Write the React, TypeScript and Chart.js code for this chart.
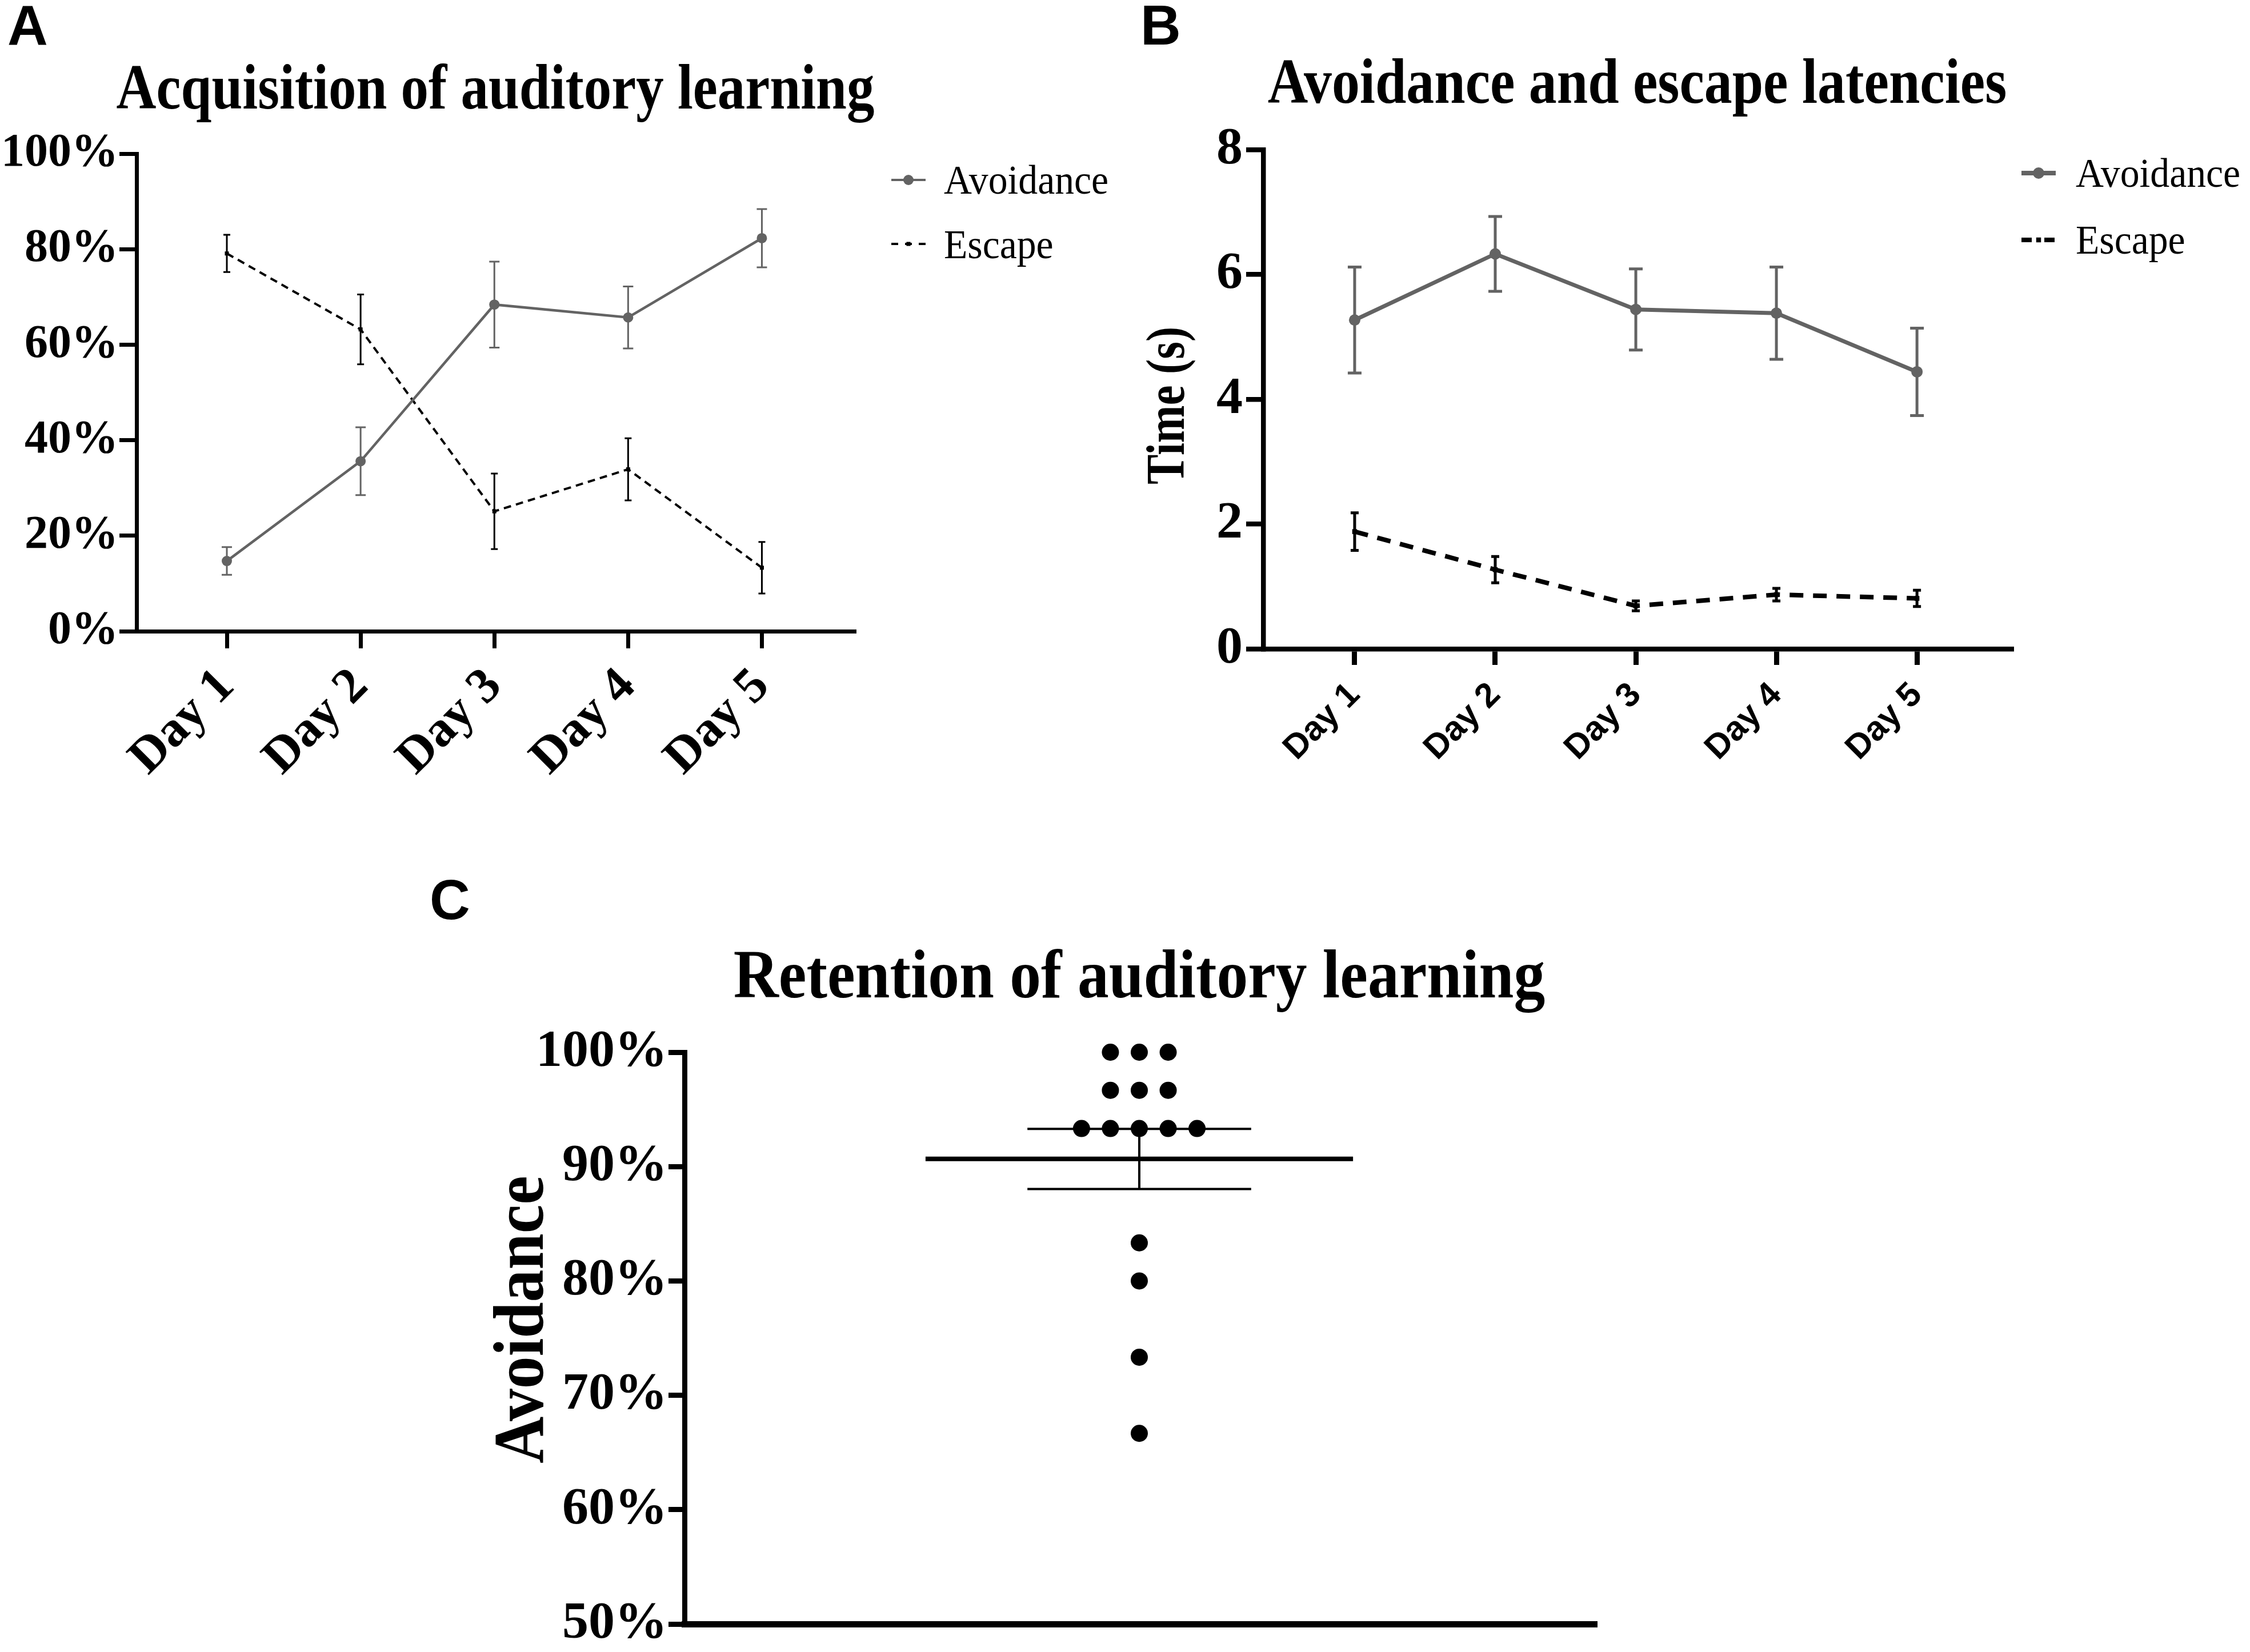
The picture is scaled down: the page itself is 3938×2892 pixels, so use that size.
import React, { useEffect, useRef } from 'react';
import { Chart, registerables } from 'chart.js';

Chart.register(...registerables);

const SERIF = "'Liberation Serif', 'Times New Roman', serif";
const SANS = "'Liberation Sans', Arial, sans-serif";
const GRAY = '#636363';
const BLACK = '#000000';

// ---------- data ----------
const days = ['Day 1', 'Day 2', 'Day 3', 'Day 4', 'Day 5'];

// Panel A: acquisition (% of trials)
const acqAvoidance = [14.7, 35.6, 68.4, 65.7, 82.3];
const acqAvoidanceSem = [2.9, 7.1, 9.0, 6.5, 6.1];
const acqEscape = [79.1, 63.2, 25.1, 33.9, 13.3];
const acqEscapeSem = [3.9, 7.3, 7.9, 6.5, 5.4];

// Panel B: latencies (s)
const latAvoidance = [5.27, 6.33, 5.44, 5.38, 4.44];
const latAvoidanceSem = [0.85, 0.6, 0.65, 0.74, 0.7];
const latEscape = [1.88, 1.27, 0.69, 0.87, 0.81];
const latEscapeSem = [0.3, 0.21, 0.08, 0.1, 0.13];

// Panel C: retention (% avoidance per animal)
const retention = [100, 100, 100, 96.67, 96.67, 96.67, 93.33, 93.33, 93.33, 93.33, 93.33, 83.33, 80, 73.33, 66.67];

const seriesLabels = ['Avoidance', 'Escape'];

// ---------- helpers ----------
const toXY = (vals: number[]) => vals.map((y, i) => ({ x: i + 1, y }));

const retentionMean = retention.reduce((a, b) => a + b, 0) / retention.length;
const retentionSem = Math.sqrt(
  retention.reduce((a, b) => a + (b - retentionMean) ** 2, 0) / (retention.length - 1)
) / Math.sqrt(retention.length);

// beeswarm-like symmetric spread of identical values around x = 1
const retentionPoints = (() => {
  const step = 0.0635;
  const groups: Record<string, number> = {};
  retention.forEach((v) => { groups[v.toFixed(2)] = (groups[v.toFixed(2)] || 0) + 1; });
  const seen: Record<string, number> = {};
  return retention.map((v) => {
    const k = v.toFixed(2);
    const n = groups[k];
    const idx = seen[k] || 0;
    seen[k] = idx + 1;
    return { x: 1 + (idx - (n - 1) / 2) * step, y: v };
  });
})();

const errorBarPlugin = {
  id: 'errorBars',
  beforeDatasetsDraw(chart: any) {
    const ctx = chart.ctx;
    const yScale = chart.scales.y;
    chart.data.datasets.forEach((ds: any, i: number) => {
      if (!ds.sem) return;
      const meta = chart.getDatasetMeta(i);
      ctx.save();
      ctx.strokeStyle = ds.borderColor;
      ctx.lineWidth = ds.errWidth;
      ctx.setLineDash([]);
      meta.data.forEach((el: any, j: number) => {
        const v = ds.data[j].y;
        const e = ds.sem[j];
        const yt = yScale.getPixelForValue(v + e);
        const yb = yScale.getPixelForValue(v - e);
        const x = el.x;
        const c = ds.capHalf;
        ctx.beginPath();
        ctx.moveTo(x, yt);
        ctx.lineTo(x, yb);
        ctx.moveTo(x - c, yt);
        ctx.lineTo(x + c, yt);
        ctx.moveTo(x - c, yb);
        ctx.lineTo(x + c, yb);
        ctx.stroke();
      });
      ctx.restore();
    });
  },
};

type DecorCfg = {
  title: string;
  titleSize: number;
  titleScale: number;
  titleBase: number;
  yTitle?: string;
  ySize?: number;
  yScale?: number;
  yBaseX?: number;
  yCenter?: number;
};

function decorPlugin(cfg: DecorCfg) {
  return {
    id: 'decor',
    afterDraw(chart: any) {
      const ctx = chart.ctx;
      const ca = chart.chartArea;
      ctx.save();
      ctx.fillStyle = BLACK;
      ctx.font = `bold ${cfg.titleSize}px ${SERIF}`;
      ctx.textAlign = 'center';
      ctx.textBaseline = 'alphabetic';
      ctx.translate((ca.left + ca.right) / 2, cfg.titleBase);
      ctx.scale(cfg.titleScale, 1);
      ctx.fillText(cfg.title, 0, 0);
      ctx.restore();
      if (cfg.yTitle) {
        ctx.save();
        ctx.fillStyle = BLACK;
        ctx.font = `bold ${cfg.ySize}px ${SERIF}`;
        ctx.textAlign = 'center';
        ctx.textBaseline = 'alphabetic';
        ctx.translate(cfg.yBaseX, cfg.yCenter);
        ctx.rotate(-Math.PI / 2);
        ctx.scale(cfg.yScale, 1);
        ctx.fillText(cfg.yTitle, 0, 0);
        ctx.restore();
      }
    },
  };
}

type LegendCfg = {
  x0: number;
  x1: number;
  textX: number;
  lineY: number[];
  baseY: number[];
  size: number;
  scaleX: number;
};

function legendPlugin(cfg: LegendCfg) {
  return {
    id: 'customLegend',
    afterDraw(chart: any) {
      const ctx = chart.ctx;
      chart.data.datasets.forEach((ds: any, i: number) => {
        if (cfg.lineY[i] === undefined) return;
        const y = cfg.lineY[i];
        ctx.save();
        ctx.strokeStyle = ds.borderColor;
        ctx.lineWidth = ds.legendWidth ?? ds.borderWidth;
        ctx.setLineDash(ds.legendDash ?? ds.borderDash ?? []);
        ctx.beginPath();
        ctx.moveTo(cfg.x0, y);
        ctx.lineTo(cfg.x1, y);
        ctx.stroke();
        ctx.setLineDash([]);
        const cx = (cfg.x0 + cfg.x1) / 2;
        const r = ds.pointRadius;
        ctx.fillStyle = ds.pointBackgroundColor;
        if (ds.pointStyle === 'rect') {
          const s = r * Math.SQRT1_2;
          ctx.fillRect(cx - s, y - s, 2 * s, 2 * s);
        } else {
          ctx.beginPath();
          ctx.arc(cx, y, r, 0, Math.PI * 2);
          ctx.fill();
        }
        ctx.fillStyle = BLACK;
        ctx.font = `${cfg.size}px ${SERIF}`;
        ctx.textAlign = 'left';
        ctx.textBaseline = 'alphabetic';
        ctx.translate(cfg.textX, cfg.baseY[i]);
        ctx.scale(cfg.scaleX, 1);
        ctx.fillText(ds.label, 0, 0);
        ctx.restore();
      });
    },
  };
}

const axisGrid = (w: number, len: number) => ({
  display: true,
  drawOnChartArea: false,
  drawTicks: true,
  tickLength: len,
  lineWidth: w,
  tickWidth: w,
  color: BLACK,
  tickColor: BLACK,
});

// ---------- configs ----------
function acqConfig(): any {
  return {
    type: 'line',
    data: {
      datasets: [
        {
          label: seriesLabels[0],
          data: toXY(acqAvoidance),
          sem: acqAvoidanceSem,
          borderColor: GRAY,
          backgroundColor: GRAY,
          borderWidth: 4.5,
          pointStyle: 'circle',
          pointRadius: 9,
          pointBackgroundColor: GRAY,
          pointBorderWidth: 0,
          errWidth: 3,
          capHalf: 9,
          legendWidth: 4,
        },
        {
          label: seriesLabels[1],
          data: toXY(acqEscape),
          sem: acqEscapeSem,
          borderColor: BLACK,
          backgroundColor: BLACK,
          borderWidth: 4,
          borderDash: [13, 9],
          pointStyle: 'rect',
          pointRadius: 5,
          pointBackgroundColor: BLACK,
          pointBorderWidth: 0,
          errWidth: 3,
          capHalf: 6,
          legendDash: [12, 12],
        },
      ],
    },
    options: {
      responsive: false,
      animation: false,
      events: [],
      layout: { padding: { top: 269, right: 495, bottom: 0, left: 0 } },
      plugins: { legend: { display: false }, title: { display: false }, tooltip: { enabled: false } },
      scales: {
        x: {
          type: 'linear',
          min: 0.325,
          max: 5.69,
          afterBuildTicks: (s: any) => { s.ticks = days.map((_, i) => ({ value: i + 1 })); },
          afterFit: (s: any) => { s.height = 295; },
          ticks: {
            autoSkip: false,
            minRotation: 45,
            maxRotation: 45,
            padding: 22,
            color: BLACK,
            font: { family: SERIF, weight: 'bold', size: 88, lineHeight: 1 },
            callback: (v: any) => days[Math.round(v) - 1] ?? '',
          },
          grid: axisGrid(7, 30),
          border: { display: true, color: BLACK, width: 7 },
        },
        y: {
          type: 'linear',
          min: 0,
          max: 100,
          afterFit: (s: any) => { s.width = 239; },
          ticks: {
            stepSize: 20,
            padding: 2,
            color: BLACK,
            font: { family: SERIF, weight: 'bold', size: 82, lineHeight: 1 },
            callback: (v: any) => `${v}%`,
          },
          grid: axisGrid(7, 30),
          border: { display: true, color: BLACK, width: 7 },
        },
      },
    },
    plugins: [
      errorBarPlugin,
      decorPlugin({ title: 'Acquisition of auditory learning', titleSize: 112, titleScale: 0.865, titleBase: 190 }),
      legendPlugin({ x0: 1560, x1: 1620, textX: 1652, lineY: [315, 427], baseY: [339, 452], size: 72, scaleX: 0.94 }),
    ],
  };
}

function latConfig(): any {
  return {
    type: 'line',
    data: {
      datasets: [
        {
          label: seriesLabels[0],
          data: toXY(latAvoidance),
          sem: latAvoidanceSem,
          borderColor: GRAY,
          backgroundColor: GRAY,
          borderWidth: 7,
          pointStyle: 'circle',
          pointRadius: 10,
          pointBackgroundColor: GRAY,
          pointBorderWidth: 0,
          errWidth: 5,
          capHalf: 12,
          legendWidth: 8,
        },
        {
          label: seriesLabels[1],
          data: toXY(latEscape),
          sem: latEscapeSem,
          borderColor: BLACK,
          backgroundColor: BLACK,
          borderWidth: 8,
          borderDash: [24, 17],
          pointStyle: 'rect',
          pointRadius: 6,
          pointBackgroundColor: BLACK,
          pointBorderWidth: 0,
          errWidth: 5,
          capHalf: 7,
          legendDash: [18, 22],
        },
      ],
    },
    options: {
      responsive: false,
      animation: false,
      events: [],
      layout: { padding: { top: 262, right: 418, bottom: 0, left: 0 } },
      plugins: { legend: { display: false }, title: { display: false }, tooltip: { enabled: false } },
      scales: {
        x: {
          type: 'linear',
          min: 0.35,
          max: 5.67,
          afterBuildTicks: (s: any) => { s.ticks = days.map((_, i) => ({ value: i + 1 })); },
          afterFit: (s: any) => { s.height = 264; },
          ticks: {
            autoSkip: false,
            minRotation: 45,
            maxRotation: 45,
            padding: 22,
            color: BLACK,
            font: { family: SANS, weight: 'bold', size: 60, lineHeight: 1 },
            callback: (v: any) => days[Math.round(v) - 1] ?? '',
          },
          grid: axisGrid(9, 28),
          border: { display: true, color: BLACK, width: 8.5 },
        },
        y: {
          type: 'linear',
          min: 0,
          max: 8,
          afterFit: (s: any) => { s.width = 221; },
          ticks: {
            stepSize: 2,
            padding: 6,
            color: BLACK,
            font: { family: SERIF, weight: 'bold', size: 92, lineHeight: 1 },
          },
          grid: axisGrid(8.5, 30),
          border: { display: true, color: BLACK, width: 8.5 },
        },
      },
    },
    plugins: [
      errorBarPlugin,
      decorPlugin({
        title: 'Avoidance and escape latencies', titleSize: 112, titleScale: 0.873, titleBase: 180,
        yTitle: 'Time (s)', ySize: 96, yScale: 0.82, yBaseX: 82, yCenter: 710,
      }),
      legendPlugin({ x0: 1548, x1: 1608, textX: 1643, lineY: [303, 420], baseY: [327, 444], size: 72, scaleX: 0.94 }),
    ],
  };
}

function retentionConfig(): any {
  const m = retentionMean;
  const e = retentionSem;
  const thin = { type: 'line', borderColor: BLACK, borderWidth: 4, pointRadius: 0, fill: false, clip: false };
  return {
    type: 'scatter',
    data: {
      datasets: [
        {
          label: 'Avoidance',
          data: retentionPoints,
          pointRadius: 15,
          pointStyle: 'circle',
          pointBackgroundColor: BLACK,
          pointBorderWidth: 0,
          borderColor: BLACK,
          clip: false,
        },
        { ...thin, label: 'Mean', borderWidth: 8, data: [{ x: 1 - 0.47, y: m }, { x: 1 + 0.47, y: m }] },
        { ...thin, label: 'SEM+', data: [{ x: 1 - 0.246, y: m + e }, { x: 1 + 0.246, y: m + e }] },
        { ...thin, label: 'SEM-', data: [{ x: 1 - 0.246, y: m - e }, { x: 1 + 0.246, y: m - e }] },
        { ...thin, label: 'SEM', data: [{ x: 1, y: m - e }, { x: 1, y: m + e }] },
      ],
    },
    options: {
      responsive: false,
      animation: false,
      events: [],
      layout: { padding: { top: 392, right: 210, bottom: 49, left: 0 } },
      plugins: { legend: { display: false }, title: { display: false }, tooltip: { enabled: false } },
      scales: {
        x: {
          type: 'linear',
          min: 0,
          max: 2,
          afterFit: (s: any) => { s.height = 0; },
          ticks: { display: false },
          grid: { display: true, drawOnChartArea: false, drawTicks: false, lineWidth: 11, color: BLACK },
          border: { display: true, color: BLACK, width: 11 },
        },
        y: {
          type: 'linear',
          min: 50,
          max: 100,
          afterFit: (s: any) => { s.width = 598; },
          ticks: {
            stepSize: 10,
            padding: 2,
            color: BLACK,
            font: { family: SERIF, weight: 'bold', size: 92, lineHeight: 1 },
            callback: (v: any) => `${v}%`,
          },
          grid: axisGrid(9, 28),
          border: { display: true, color: BLACK, width: 9 },
        },
      },
    },
    plugins: [
      decorPlugin({
        title: 'Retention of auditory learning', titleSize: 121, titleScale: 0.905, titleBase: 296,
        yTitle: 'Avoidance', ySize: 125, yScale: 0.91, yBaseX: 350, yCenter: 860,
      }),
    ],
  };
}

// ---------- components ----------
function ChartCanvas(props: { make: () => any; left: number; top: number; width: number; height: number }) {
  const ref = useRef<HTMLCanvasElement | null>(null);
  useEffect(() => {
    if (!ref.current) return;
    const chart = new Chart(ref.current, props.make());
    return () => chart.destroy();
  }, []);
  return (
    <canvas
      ref={ref}
      width={props.width}
      height={props.height}
      style={{ position: 'absolute', left: props.left, top: props.top, width: props.width, height: props.height }}
    />
  );
}

function PanelLetter(props: { text: string; left: number; top: number }) {
  return (
    <div
      style={{
        position: 'absolute',
        left: props.left,
        top: props.top,
        fontFamily: SANS,
        fontWeight: 'bold',
        fontSize: 98,
        lineHeight: '98px',
        color: BLACK,
      }}
    >
      {props.text}
    </div>
  );
}

export default function App() {
  return (
    <div
      style={{
        position: 'absolute',
        left: 0,
        top: 0,
        width: 3938,
        height: 2892,
        background: '#ffffff',
        overflow: 'hidden',
      }}
    >
      <ChartCanvas make={acqConfig} left={0} top={0} width={1990} height={1400} />
      <ChartCanvas make={latConfig} left={1990} top={0} width={1948} height={1400} />
      <ChartCanvas make={retentionConfig} left={600} top={1450} width={2400} height={1442} />
      <PanelLetter text="A" left={13} top={-5} />
      <PanelLetter text="B" left={1996} top={-5} />
      <PanelLetter text="C" left={752} top={1526} />
    </div>
  );
}
